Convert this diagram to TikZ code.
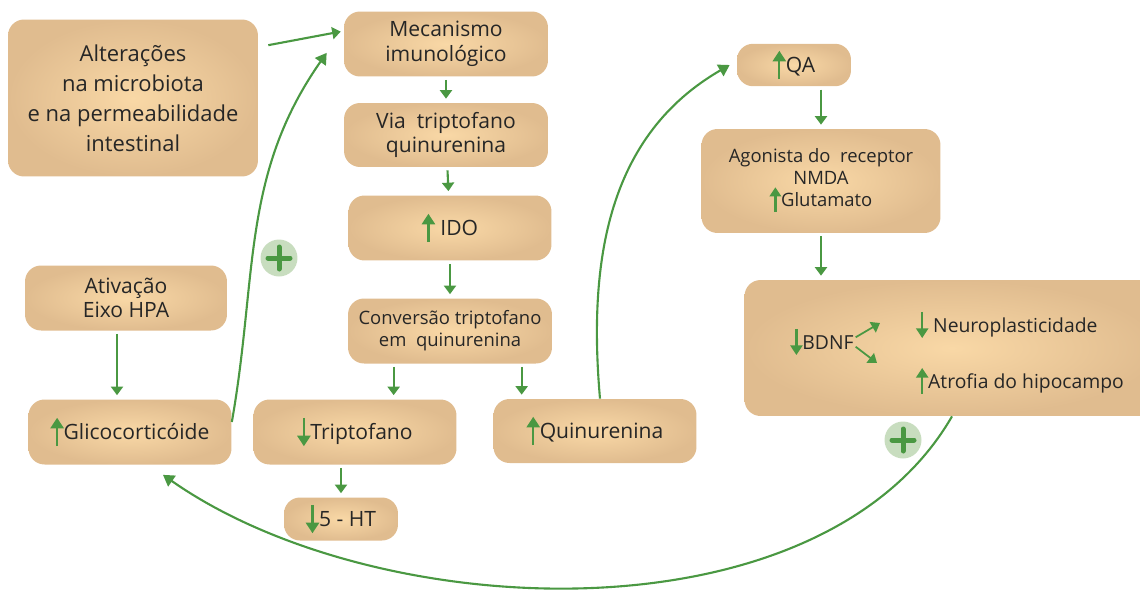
\documentclass[tikz,border=0pt]{standalone}
\usepackage{fontspec}
\setmainfont{Open Sans}
\usetikzlibrary{arrows.meta}

\definecolor{boxlight}{RGB}{249,216,166}
\definecolor{boxdark}{RGB}{224,188,143}
\definecolor{pilgreen}{RGB}{74,152,66}
\definecolor{plusfill}{RGB}{200,221,191}

\tikzset{
    pil/.style={ -{Triangle[length=0.17cm,width=0.24cm]}, line width=1.2pt, draw=pilgreen, shorten <=0.06cm, shorten >=0.08cm},
    curvepil/.style={ -{Triangle[length=0.22cm,width=0.26cm]}, line width=1.2pt, draw=pilgreen},
    %Define style for boxes
    box/.style={ rounded corners=0.32cm, inner color=boxlight, outer color=boxdark, align=center, text=black!85, font=\fontsize{12}{14}\selectfont},
    smallbox/.style={ box, font=\fontsize{10.5}{12.5}\selectfont},
    plusmark/.style={ circle, fill=plusfill, minimum size=0.74cm, inner sep=0pt,
        path picture={
            \draw[line width=0.1cm, pilgreen, line cap=round] ([xshift=-0.22cm]path picture bounding box.center) -- ([xshift=0.22cm]path picture bounding box.center);
            \draw[line width=0.1cm, pilgreen, line cap=round] ([yshift=-0.22cm]path picture bounding box.center) -- ([yshift=0.22cm]path picture bounding box.center);
        }},
  }

% small green arrows inside the texts
\newcommand{\uparr}{\tikz[baseline=0pt]\draw[-{Triangle[length=0.5em,width=0.62em]}, line width=1.3pt, pilgreen] (0,-0.3em) -- (0,1.05em);}
\newcommand{\downarr}{\tikz[baseline=0pt]\draw[-{Triangle[length=0.5em,width=0.62em]}, line width=1.3pt, pilgreen] (0,1.05em) -- (0,-0.3em);}

\begin{document}
\begin{tikzpicture}[x=0.02cm, y=-0.02cm]

\useasboundingbox (0,0) rectangle (1140,589);

% left column
  \node[box, minimum width=5cm, minimum height=3.14cm, font=\fontsize{12.5}{17}\selectfont] (alter) at (133,98) {Alterações\\ na microbiota\\ e na permeabilidade\\ intestinal};
  \node[box, minimum width=4.04cm, minimum height=1.3cm] (hpa) at (126,298) {Ativação\\ Eixo HPA};
  \node[box, minimum width=4.06cm, minimum height=1.3cm] (glico) at (130,432) {\uparr Glicocorticóide};

% middle column
  \node[box, minimum width=4.08cm, minimum height=1.3cm] (mecan) at (446,44) {Mecanismo\\ imunológico};
  \node[box, minimum width=4.08cm, minimum height=1.28cm] (viatrp) at (446,135) {Via\ \ triptofano\\ quinurenina};
  \node[box, minimum width=4.06cm, minimum height=1.3cm] (ido) at (450,228) {\uparr\ IDO};
  \node[smallbox, minimum width=4.08cm, minimum height=1.3cm] (conv) at (450,331) {Conversão triptofano\\ em\ \ quinurenina};
  \node[box, minimum width=4.06cm, minimum height=1.3cm] (trp) at (355,432) {\downarr Triptofano};
  \node[box, minimum width=4.06cm, minimum height=1.28cm] (quin) at (595,431) {\uparr Quinurenina};
  \node[box, minimum width=2.28cm, minimum height=0.86cm] (sht) at (341,519) {\downarr 5 - HT};

% right column
  \node[box, minimum width=2.28cm, minimum height=0.84cm] (qa) at (794,65) {\uparr QA};
  \node[smallbox, minimum width=4.78cm, minimum height=2.08cm] (agon) at (821,181) {Agonista do\ \ receptor\\ NMDA\\ \uparr Glutamato};
  \node[box, minimum width=8.3cm, minimum height=2.72cm] (bdnfbox) at (952,348) {};

% inside the BDNF box
  \node[font=\fontsize{11}{13}\selectfont, text=black!85, inner sep=1pt] (bdnf) at (822,342) {\downarr BDNF};
  \node[anchor=west, font=\fontsize{11}{13}\selectfont, text=black!85] (neuro) at (910,325) {\downarr\ Neuroplasticidade};
  \node[anchor=west, font=\fontsize{11}{13}\selectfont, text=black!85] (atrof) at (910,381) {\uparr Atrofia do hipocampo};
  \coordinate (bdnfup) at (880,323);
  \coordinate (bdnfdown) at (877,363);
  \draw[pil, line width=1pt, shorten <=0pt, shorten >=0pt] (bdnf.8) -- (bdnfup);
  \draw[pil, line width=1pt, shorten <=0pt, shorten >=0pt] (bdnf.-8) -- (bdnfdown);

% plus signs
  \node[plusmark] (plus1) at (279,258) {};
  \node[plusmark] (plus2) at (903,440) {};

% straight connectors
  \draw[pil, shorten <=0pt, shorten >=0.06cm] ([shift={(0.2cm,-0.52cm)}]alter.north east) -- ([yshift=0.26cm]mecan.west);
  \draw[pil] (mecan) -- (viatrp);
  \draw[pil] (viatrp) -- (ido);
  \draw[pil] (ido) -- (conv);
  \draw[pil] ([xshift=0.92cm]conv.south west) -- ([xshift=0.92cm]conv.south west |- trp.north);
  \draw[pil] ([xshift=3.48cm]conv.south west) -- ([xshift=3.48cm]conv.south west |- quin.north);
  \draw[pil] (sht.north |- trp.south) -- (sht.north);
  \draw[pil] ([xshift=-0.18cm]hpa.south) -- ([xshift=-0.18cm]hpa.south |- glico.north);
  \draw[pil] (agon.north |- qa.south) -- (agon.north);
  \draw[pil] (agon.south) -- (agon.south |- bdnfbox.north);

% curved connectors
  \draw[curvepil] ([yshift=0.2cm]glico.east) to[out=80, in=-125] ([shift={(-0.34cm,0.48cm)}]mecan.south west);
  \draw[curvepil] ([xshift=0.1cm]quin.north) to[out=95, in=210] ([xshift=-0.14cm]qa.west);
  \draw[curvepil] (bdnfbox.south) to[out=-120, in=-35, looseness=0.85] ([shift={(0.66cm,-0.2cm)}]glico.south);

\end{tikzpicture}
\end{document}
